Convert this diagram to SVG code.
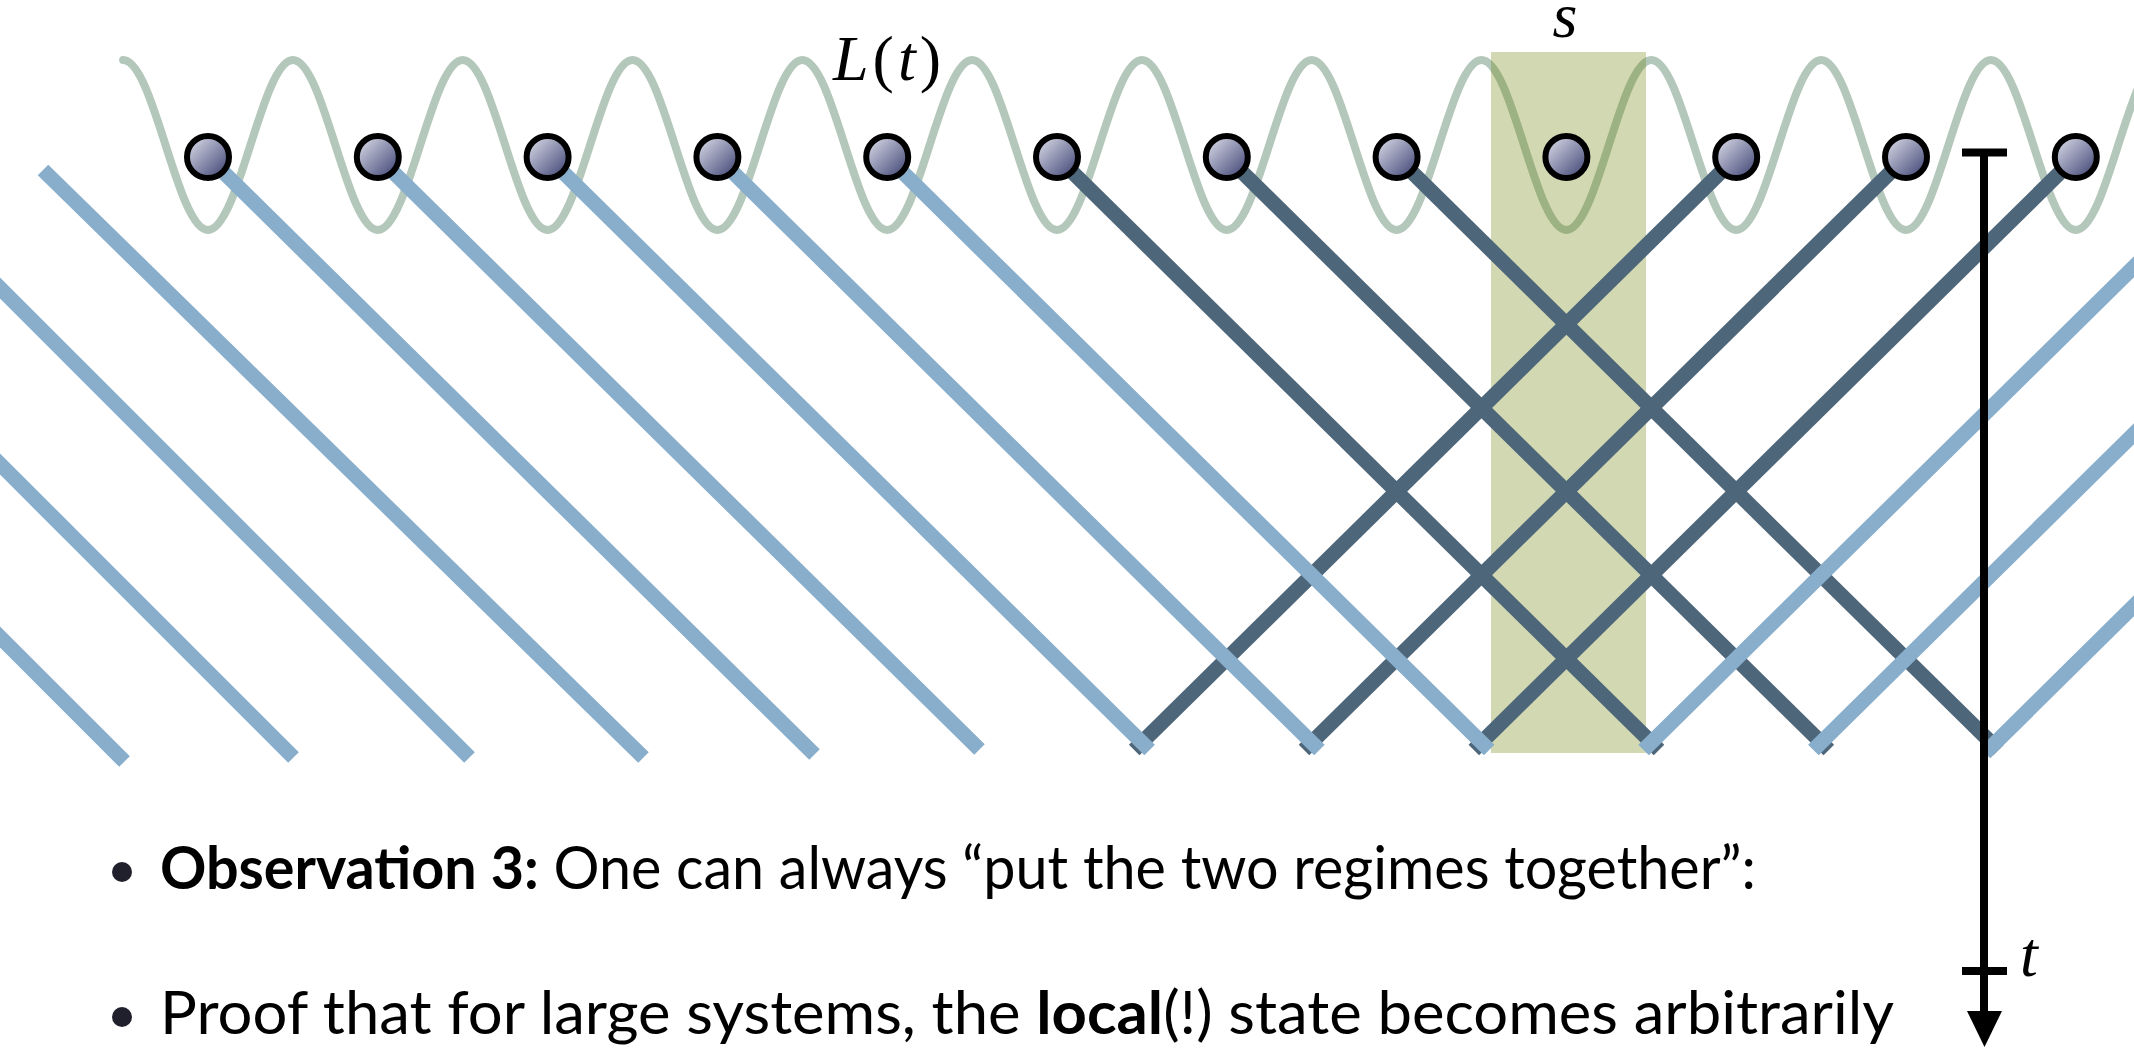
<svg xmlns="http://www.w3.org/2000/svg" width="2134" height="1050" viewBox="0 0 2134 1050">
<defs>
<linearGradient id="ng" x1="0" y1="0" x2="1" y2="1">
<stop offset="0.1" stop-color="#d3d5e3"/>
<stop offset="0.95" stop-color="#3f4474"/>
</linearGradient>
<style>
.wave{fill:none;stroke:#b4c7bb;stroke-width:8;stroke-linecap:round}
.lb{stroke:#88aecb;stroke-width:15;fill:none}
.dk{stroke:#4e6679;stroke-width:15;fill:none}
.nd{fill:url(#ng);stroke:#000;stroke-width:6}
.ax{stroke:#000;stroke-width:8;fill:none}
.math{font-family:"Liberation Serif",serif;font-size:64px;fill:#000}
.body{font-family:Lato,"Open Sans",sans-serif;font-size:60px;fill:#000}
</style>
</defs>
<rect width="2134" height="1050" fill="#fff"/>
<path id="wave" class="wave" d="M123.1,60 C153.95,60 177.15,230 208,230 S262.05,60 292.9,60 S346.95,230 377.8,230 S431.85,60 462.7,60 S516.75,230 547.6,230 S601.65,60 632.5,60 S686.55,230 717.4,230 S771.45,60 802.3,60 S856.35,230 887.2,230 S941.25,60 972.1,60 S1026.15,230 1057,230 S1111.05,60 1141.9,60 S1195.95,230 1226.8,230 S1280.85,60 1311.7,60 S1365.75,230 1396.6,230 S1450.65,60 1481.5,60 S1535.55,230 1566.4,230 S1620.45,60 1651.3,60 S1705.35,230 1736.2,230 S1790.25,60 1821.1,60 S1875.15,230 1906,230 S1960.05,60 1990.9,60 S2044.95,230 2075.8,230 S2129.85,60 2160.7,60"/>
<rect id="band" x="1491" y="52" width="155" height="701" fill="#698000" fill-opacity="0.3"/>
<g id="connectors">
<g id="dark-lines">
<line class="dk" x1="1057" y1="157" x2="1659" y2="750"/>
<line class="dk" x1="1226.8" y1="157" x2="1828.8" y2="750"/>
<line class="dk" x1="1396.6" y1="157" x2="1998.6" y2="750"/>
<line class="dk" x1="1736.2" y1="157" x2="1134.2" y2="750"/>
<line class="dk" x1="1906" y1="157" x2="1304" y2="750"/>
<line class="dk" x1="2075.8" y1="157" x2="1473.8" y2="750"/>
</g>
<g id="light-lines">
<line class="lb" x1="-20" y1="617" x2="124.5" y2="761.5"/>
<line class="lb" x1="-20" y1="444" x2="293.5" y2="757.5"/>
<line class="lb" x1="-20" y1="268" x2="469.5" y2="757.5"/>
<line class="lb" x1="43" y1="170" x2="643.5" y2="757.5"/>
<line class="lb" x1="208" y1="157" x2="814.5" y2="754.5"/>
<line class="lb" x1="377.8" y1="157" x2="979.5" y2="749.5"/>
<line class="lb" x1="547.6" y1="157" x2="1149.6" y2="750"/>
<line class="lb" x1="717.4" y1="157" x2="1319.4" y2="750"/>
<line class="lb" x1="887.2" y1="157" x2="1489.2" y2="750"/>
<line class="lb" x1="2150" y1="251" x2="1643.6" y2="750"/>
<line class="lb" x1="2150" y1="418" x2="1813.4" y2="750"/>
<line class="lb" x1="2150" y1="590" x2="1985" y2="753"/>
</g>
</g>
<g id="time-axis">
<line class="ax" x1="1984" y1="152" x2="1984" y2="1014"/>
<line class="ax" x1="1962" y1="152.5" x2="2007" y2="152.5"/>
<line class="ax" x1="1962" y1="971" x2="2007" y2="971"/>
<polygon points="1967,1011 2002,1011 1984.5,1047" fill="#000"/>
</g>
<g id="nodes">
<g id="n1"><circle class="nd" cx="208" cy="157" r="21"/></g>
<g id="n2"><circle class="nd" cx="377.8" cy="157" r="21"/></g>
<g id="n3"><circle class="nd" cx="547.6" cy="157" r="21"/></g>
<g id="n4"><circle class="nd" cx="717.4" cy="157" r="21"/></g>
<g id="n5"><circle class="nd" cx="887.2" cy="157" r="21"/></g>
<g id="n6"><circle class="nd" cx="1057" cy="157" r="21"/></g>
<g id="n7"><circle class="nd" cx="1226.8" cy="157" r="21"/></g>
<g id="n8"><circle class="nd" cx="1396.6" cy="157" r="21"/></g>
<g id="n9"><circle class="nd" cx="1566.4" cy="157" r="21"/></g>
<g id="n10"><circle class="nd" cx="1736.2" cy="157" r="21"/></g>
<g id="n11"><circle class="nd" cx="1906" cy="157" r="21"/></g>
<g id="n12"><circle class="nd" cx="2075.8" cy="157" r="21"/></g>
</g>
<g id="labels">
<text class="math" x="833" y="80" letter-spacing="4"><tspan font-style="italic">L</tspan>(<tspan font-style="italic">t</tspan>)</text>
<text class="math" x="1565" y="37" text-anchor="middle" font-style="italic" font-size="60">s</text>
<text class="math" x="2020" y="976" font-style="italic">t</text>
</g>
<g id="bullets">
<circle cx="122" cy="872" r="10" fill="#20202c"/>
<circle cx="122" cy="1017" r="10" fill="#20202c"/>
<text class="body" x="160" y="889" textLength="1596" lengthAdjust="spacingAndGlyphs"><tspan font-weight="bold">Observation 3:</tspan> One can always “put the two regimes together”:</text>
<text class="body" x="160" y="1034" textLength="1734" lengthAdjust="spacingAndGlyphs">Proof that for large systems, the <tspan font-weight="bold">local</tspan>(!) state becomes arbitrarily</text>
</g>
</svg>
